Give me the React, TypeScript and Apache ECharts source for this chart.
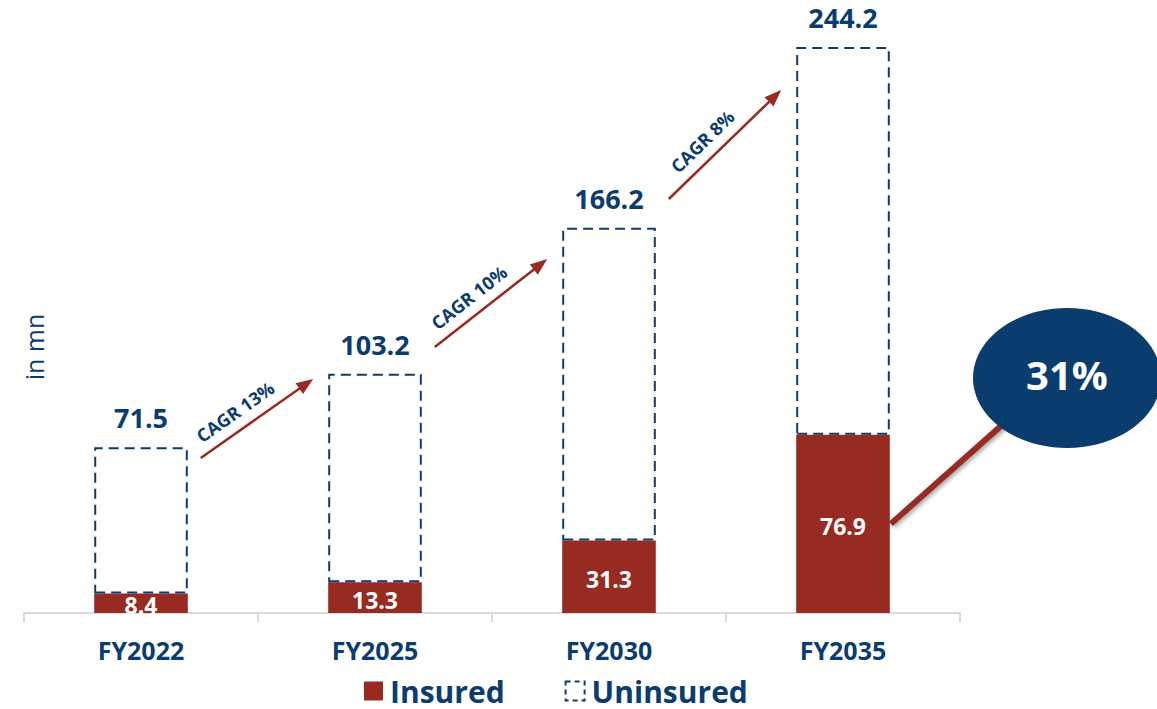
import React, { useEffect, useRef } from "react";
import * as echarts from "echarts";

const categories = ["FY2022", "FY2025", "FY2030", "FY2035"];
const totals = [71.5, 103.2, 166.2, 244.2];
const insured = [8.4, 13.3, 31.3, 76.9];
const uninsured = totals.map((t, i) => Math.round((t - insured[i]) * 10) / 10);
const cagrLabels = ["CAGR 13%", "CAGR 10%", "CAGR 8%"];
// arrow start / end heights (in mn units) for the CAGR annotations
const cagrFrom = [66.9, 114.8, 178.6];
const cagrTo = [101, 152.7, 225.6];

const RED = "#972a21";
const NAVY = "#0b3c6e";
const FONT = "'Open Sans', 'Noto Sans', sans-serif";

export default function App() {
  const ref = useRef<HTMLDivElement>(null);
  useEffect(() => {
    if (!ref.current) return;
    const chart = echarts.init(ref.current, null, { renderer: "svg" });
    chart.setOption({
      animation: false,
      textStyle: { fontFamily: FONT },
      grid: { left: 24, right: 197, top: 33.5, bottom: 96, containLabel: false },
      legend: {
        top: 676,
        left: 364,
        padding: 0,
        itemWidth: 19,
        itemHeight: 19,
        itemGap: 60,
        textStyle: {
          fontSize: 30,
          lineHeight: 30,
          fontWeight: "bold",
          color: NAVY,
          fontFamily: FONT,
          padding: [0, 0, 0, 2],
        },
        data: [
          { name: "Insured", icon: "rect", itemStyle: { color: RED, borderWidth: 0 } },
          {
            name: "Uninsured",
            icon: "rect",
            itemStyle: { color: "#fff", borderColor: NAVY, borderWidth: 2, borderType: [5, 4] },
          },
        ],
      },
      xAxis: {
        type: "category",
        data: categories,
        boundaryGap: true,
        axisLine: { lineStyle: { color: "#d9d9d9", width: 2 } },
        axisTick: { show: true, length: 9, lineStyle: { color: "#d9d9d9", width: 2 } },
        axisLabel: { margin: 24, fontSize: 25, fontWeight: "bold", color: NAVY, fontFamily: FONT },
      },
      yAxis: {
        type: "value",
        min: 0,
        max: 250,
        show: false,
        splitLine: { show: false },
      },
      series: [
        {
          name: "Insured",
          type: "bar",
          stack: "a",
          barWidth: "40%",
          data: insured,
          itemStyle: { color: RED },
          label: {
            show: true,
            position: "inside",
            offset: [0, 2],
            color: "#fff",
            fontSize: 23,
            fontWeight: "bold",
            fontFamily: FONT,
          },
          z: 2,
        },
        {
          name: "Uninsured",
          type: "bar",
          stack: "a",
          barWidth: "40%",
          data: uninsured,
          itemStyle: { color: "rgba(255,255,255,0)", borderColor: NAVY, borderWidth: 2, borderType: [10, 6] },
          label: {
            show: true,
            position: "top",
            distance: 16,
            color: NAVY,
            fontSize: 27,
            fontWeight: "bold",
            fontFamily: FONT,
            formatter: (p: any) => String(totals[p.dataIndex]),
          },
          z: 3,
        },
      ],
    });

    const px = (i: number, v: number) => chart.convertToPixel({ gridIndex: 0 }, [i, v]) as number[];
    const band = px(1, 0)[0] - px(0, 0)[0];
    const halfBar = band * 0.2;
    const graphics: any[] = [];

    for (let i = 0; i < cagrLabels.length; i++) {
      const s = px(i, cagrFrom[i]);
      const e = px(i + 1, cagrTo[i]);
      const x1 = s[0] + halfBar + 13;
      const y1 = s[1];
      const x2 = e[0] - halfBar - 15;
      const y2 = e[1];
      const dx = x2 - x1;
      const dy = y2 - y1;
      const len = Math.sqrt(dx * dx + dy * dy);
      const ux = dx / len;
      const uy = dy / len;
      const nx = uy; // perpendicular
      const ny = -ux;
      const L = 17;
      const W = 13;
      graphics.push({
        type: "line",
        shape: { x1, y1, x2: x2 - ux * L * 0.8, y2: y2 - uy * L * 0.8 },
        style: { stroke: RED, lineWidth: 2.5 },
      });
      graphics.push({
        type: "polygon",
        shape: {
          points: [
            [x2, y2],
            [x2 - ux * L + nx * W / 2, y2 - uy * L + ny * W / 2],
            [x2 - ux * L - nx * W / 2, y2 - uy * L - ny * W / 2],
          ],
        },
        style: { fill: RED },
      });
      const mx = (x1 + x2) / 2 - ux * 14 + nx * 18;
      const my = (y1 + y2) / 2 - uy * 14 + ny * 18;
      const ang = Math.atan2(-dy, dx);
      graphics.push({
        type: "text",
        x: mx,
        y: my,
        rotation: ang,
        style: {
          text: cagrLabels[i],
          fill: NAVY,
          font: `bold 18px ${FONT}`,
          align: "center",
          verticalAlign: "middle",
        },
      });
    }

    // y-axis unit
    graphics.push({
      type: "text",
      x: 34,
      y: 347,
      rotation: Math.PI / 2,
      style: { text: "in mn", fill: NAVY, font: `25px ${FONT}`, align: "center", verticalAlign: "middle" },
    });

    // bubble for insured share of FY2035
    const last = categories.length - 1;
    const share = Math.round((insured[last] / totals[last]) * 100);
    const anchor = px(last, insured[last] / 2);
    const bx = 1067;
    const by = 378;
    graphics.push({
      type: "line",
      shape: { x1: anchor[0] + halfBar + 1, y1: anchor[1], x2: 1010, y2: 418 },
      style: {
        stroke: RED,
        lineWidth: 6,
        shadowBlur: 4,
        shadowOffsetX: 2,
        shadowOffsetY: 2,
        shadowColor: "rgba(0,0,0,0.35)",
      },
      z: 10,
    });
    graphics.push({
      type: "ellipse",
      shape: { cx: bx, cy: by, rx: 94, ry: 70 },
      style: { fill: NAVY },
      z: 11,
    });
    graphics.push({
      type: "text",
      x: bx,
      y: by - 4,
      style: {
        text: `${share}%`,
        fill: "#fff",
        font: `bold 40px ${FONT}`,
        align: "center",
        verticalAlign: "middle",
      },
      z: 12,
    });

    chart.setOption({ graphic: graphics });
    return () => chart.dispose();
  }, []);
  return <div ref={ref} style={{ width: 1157, height: 709, position: "absolute", left: 0, top: 0 }} />;
}
